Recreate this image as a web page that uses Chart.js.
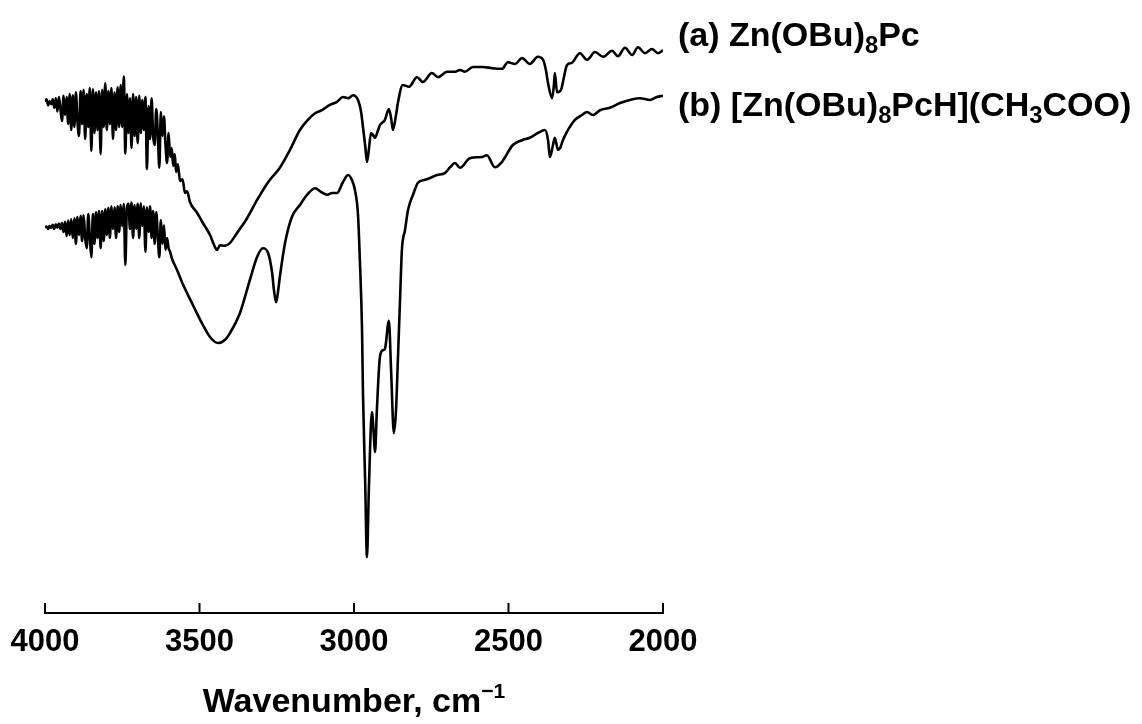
<!DOCTYPE html>
<html>
<head>
<meta charset="utf-8">
<script src="https://cdn.jsdelivr.net/npm/chart.js@4/dist/chart.umd.min.js"></script>
<style>
  html, body { margin: 0; padding: 0; background: #fff; }
</style>
</head>
<body>
<canvas id="ir-chart" width="1142" height="724"></canvas>
<script>
// (a) Zn(OBu)8Pc
const wavenumberA = [4000, 3995, 3990, 3985, 3980, 3975, 3970, 3965, 3960, 3955, 3950, 3945, 3940, 3935, 3930, 3925, 3920, 3915, 3910, 3905,
  3900, 3895, 3890, 3885, 3880, 3875, 3870, 3865, 3860, 3855, 3850, 3845, 3840, 3835, 3830, 3825, 3820, 3815, 3810, 3805,
  3800, 3795, 3790, 3785, 3780, 3775, 3770, 3765, 3760, 3755, 3750, 3745, 3740, 3735, 3730, 3725, 3720, 3715, 3710, 3705,
  3700, 3695, 3690, 3685, 3680, 3675, 3670, 3665, 3660, 3655, 3650, 3645, 3640, 3635, 3630, 3625, 3620, 3615, 3610, 3605,
  3600, 3595, 3590, 3585, 3580, 3576, 3570, 3563, 3555, 3547, 3540, 3531, 3508, 3489, 3466, 3450, 3443, 3434, 3418, 3401,
  3379, 3346, 3314, 3278, 3240, 3207, 3175, 3149, 3126, 3104, 3078, 3055, 3036, 3019, 3003, 2987, 2977, 2971, 2964, 2958,
  2952, 2945, 2939, 2932, 2922, 2916, 2900, 2887, 2880, 2874, 2864, 2858, 2842, 2822, 2796, 2777, 2748, 2728, 2699, 2673,
  2657, 2641, 2615, 2583, 2553, 2521, 2502, 2479, 2456, 2431, 2405, 2388, 2379, 2372, 2359, 2353, 2350, 2343, 2330, 2321,
  2311, 2295, 2269, 2246, 2220, 2194, 2165, 2146, 2123, 2100, 2081, 2058, 2036, 2016, 2000];
const transA = [85.2, 85.6, 84.6, 85.3, 84.8, 85.6, 84.2, 85.8, 83.6, 86.0, 84.0, 82.0, 86.2, 83.0, 86.0, 81.5, 86.5, 80.5, 86.3, 81.0,
  86.8, 82.0, 79.5, 87.0, 81.5, 87.2, 79.0, 86.5, 81.0, 87.5, 77.0, 87.3, 80.0, 86.8, 80.5, 87.0, 76.5, 87.2, 81.0, 88.3,
  80.5, 87.0, 81.5, 87.5, 79.0, 86.8, 80.5, 87.6, 81.0, 88.0, 81.0, 89.4, 76.6, 86.5, 80.0, 85.8, 77.5, 86.5, 79.5, 86.0,
  78.3, 86.2, 80.0, 85.5, 80.5, 86.0, 74.0, 84.5, 79.0, 85.8, 79.5, 78.0, 84.0, 80.0, 74.2, 83.5, 79.5, 82.8, 78.0, 75.0,
  80.0, 76.0, 77.5, 74.5, 76.5, 73.5, 74.8, 72.0, 72.3, 70.0, 70.3, 68.5, 66.7, 65.0, 63.0, 61.0, 60.5, 61.3, 61.2, 61.7,
  63.3, 65.8, 68.8, 71.8, 74.2, 77.2, 80.5, 82.2, 83.3, 83.8, 84.7, 85.2, 86.0, 85.8, 86.3, 85.5, 83.5, 81.0, 78.0, 75.2,
  77.2, 80.0, 79.7, 79.2, 80.5, 81.3, 82.2, 84.0, 82.5, 80.5, 83.0, 85.0, 88.0, 87.7, 89.3, 88.5, 90.0, 89.3, 90.2, 90.2,
  90.5, 90.2, 91.0, 91.0, 90.8, 90.7, 91.8, 91.5, 92.5, 91.5, 92.7, 92.2, 90.5, 88.3, 85.8, 88.0, 90.0, 86.8, 87.2, 89.2,
  91.3, 91.7, 93.3, 92.2, 93.5, 92.7, 93.7, 92.8, 94.2, 93.0, 94.3, 93.3, 94.0, 93.3, 93.8];

// (b) [Zn(OBu)8PcH](CH3COO)
const wavenumberB = [4000, 3995, 3990, 3985, 3980, 3975, 3970, 3965, 3960, 3955, 3950, 3945, 3940, 3935, 3930, 3925, 3920, 3915, 3910, 3905,
  3900, 3895, 3890, 3885, 3880, 3875, 3870, 3865, 3860, 3855, 3850, 3845, 3840, 3835, 3830, 3825, 3820, 3815, 3810, 3805,
  3800, 3795, 3790, 3785, 3780, 3775, 3770, 3765, 3760, 3755, 3750, 3745, 3740, 3735, 3730, 3725, 3720, 3715, 3710, 3705,
  3700, 3695, 3690, 3685, 3680, 3675, 3670, 3665, 3660, 3655, 3650, 3645, 3640, 3635, 3630, 3625, 3620, 3615, 3610, 3605,
  3600, 3595, 3590, 3573, 3553, 3521, 3489, 3466, 3440, 3418, 3401, 3369, 3337, 3314, 3295, 3278, 3265, 3259, 3252,
  3246, 3240, 3223, 3201, 3175, 3152, 3126, 3107, 3087, 3071, 3055, 3036, 3019, 3007, 2997, 2987, 2981, 2974, 2971, 2964,
  2958, 2952, 2942, 2935, 2932, 2926, 2916, 2906, 2900, 2887, 2880, 2871, 2864, 2858, 2851, 2845, 2835, 2825, 2809, 2793,
  2770, 2754, 2731, 2706, 2689, 2673, 2657, 2625, 2586, 2570, 2544, 2521, 2486, 2456, 2431, 2405, 2382, 2372, 2366, 2356,
  2350, 2340, 2333, 2324, 2311, 2285, 2262, 2246, 2227, 2204, 2172, 2139, 2107, 2075, 2042, 2020, 2000];
const transB = [64.3, 64.4, 64.0, 64.5, 64.2, 64.7, 64.0, 64.8, 64.2, 64.9, 64.0, 65.0, 63.5, 65.2, 62.8, 65.4, 63.0, 65.6, 62.5, 65.8,
  61.5, 66.0, 63.0, 66.2, 62.0, 66.3, 62.5, 60.8, 66.5, 62.5, 59.3, 66.5, 61.5, 66.8, 62.5, 67.0, 60.8, 67.0, 62.0, 67.3,
  63.0, 67.5, 62.5, 67.8, 64.0, 67.6, 62.5, 67.8, 63.5, 68.0, 64.5, 68.2, 58.0, 67.5, 68.2, 64.0, 68.4, 62.5, 68.0, 64.0,
  68.2, 62.5, 68.3, 64.5, 67.8, 60.2, 67.6, 63.5, 67.8, 62.5, 67.0, 61.5, 66.8, 63.0, 59.3, 65.5, 61.5, 64.6, 60.5, 62.5,
  60.8, 60.2, 59.2, 57.2, 54.7, 51.3, 48.0, 46.0, 45.0, 45.5, 46.7, 50.0, 55.5, 59.3, 60.8, 60.0, 56.7, 53.8, 51.8,
  53.5, 56.0, 61.7, 66.0, 68.0, 69.7, 70.8, 70.2, 69.7, 70.0, 70.0, 71.8, 73.0, 72.2, 70.5, 66.3, 58.8, 47.2, 36.7, 22.2,
  9.3, 20.5, 33.5, 28.8, 26.8, 33.8, 42.7, 43.8, 44.0, 48.7, 40.5, 30.0, 33.8, 42.2, 52.2, 60.5, 63.8, 67.2, 69.7, 71.7,
  72.2, 72.5, 73.0, 73.3, 74.3, 75.0, 74.2, 75.8, 76.0, 76.3, 74.3, 75.2, 78.0, 78.8, 79.2, 80.0, 80.5, 78.8, 76.0, 78.0,
  79.2, 77.2, 77.5, 78.8, 80.2, 82.2, 83.0, 83.5, 83.0, 83.8, 84.2, 85.0, 85.5, 85.8, 85.5, 86.0, 86.2];

const xTicks = [4000, 3500, 3000, 2500, 2000];

const FONT = '"Liberation Sans", Arial, Helvetica, sans-serif';

function toPoints(xs, ys) {
  return xs.map((x, i) => ({ x, y: ys[i] }));
}

// draws a run of text pieces; each piece may be shrunk and shifted (sub/superscript)
function drawRich(ctx, parts, x, y, size) {
  let cx = x;
  for (const p of parts) {
    const s = size * (p.scale || 1);
    ctx.font = `bold ${s}px ${FONT}`;
    ctx.fillText(p.t, cx, y + (p.dy || 0) * size);
    cx += ctx.measureText(p.t).width;
  }
  return cx - x;
}

function richWidth(ctx, parts, size) {
  let w = 0;
  for (const p of parts) {
    ctx.font = `bold ${size * (p.scale || 1)}px ${FONT}`;
    w += ctx.measureText(p.t).width;
  }
  return w;
}

const annotations = {
  id: 'annotations',
  afterDraw(chart) {
    const { ctx, scales: { x } } = chart;
    ctx.save();

    // tick marks pointing up into the plot
    ctx.strokeStyle = '#000';
    ctx.lineWidth = 2;
    xTicks.forEach((v) => {
      const px = x.getPixelForValue(v);
      ctx.beginPath();
      ctx.moveTo(px, x.top + 1);
      ctx.lineTo(px, x.top - 10);
      ctx.stroke();
    });

    ctx.fillStyle = '#000';
    ctx.textBaseline = 'alphabetic';
    ctx.textAlign = 'left';

    // axis title
    const title = [
      { t: 'Wavenumber, cm' },
      { t: '\u22121', scale: 0.62, dy: -0.42 },
    ];
    const tw = richWidth(ctx, title, 34);
    drawRich(ctx, title, (x.left + x.right) / 2 - tw / 2, 712, 34);

    // series labels
    drawRich(ctx, [
      { t: '(a) Zn(OBu)' },
      { t: '8', scale: 0.7, dy: 0.22 },
      { t: 'Pc' },
    ], 678, 46, 34);
    drawRich(ctx, [
      { t: '(b) [Zn(OBu)' },
      { t: '8', scale: 0.7, dy: 0.22 },
      { t: 'PcH](CH' },
      { t: '3', scale: 0.7, dy: 0.22 },
      { t: 'COO)' },
    ], 678, 116, 34);

    ctx.restore();
  },
};

const lineStyle = {
  borderColor: '#000',
  borderWidth: 2.6,
  pointRadius: 0,
  cubicInterpolationMode: 'monotone',
  fill: false,
};

new Chart(document.getElementById('ir-chart'), {
  type: 'line',
  data: {
    datasets: [
      { label: '(a) Zn(OBu)8Pc', data: toPoints(wavenumberA, transA), ...lineStyle },
      { label: '(b) [Zn(OBu)8PcH](CH3COO)', data: toPoints(wavenumberB, transB), ...lineStyle },
    ],
  },
  options: {
    responsive: false,
    animation: false,
    layout: { padding: { left: 45, right: 479, top: 13, bottom: 0 } },
    plugins: {
      legend: { display: false },
      tooltip: { enabled: false },
    },
    scales: {
      x: {
        type: 'linear',
        reverse: true,
        min: 2000,
        max: 4000,
        afterFit: (scale) => {
          scale.height = 111;
          scale.paddingLeft = 0;
          scale.paddingRight = 0;
        },
        afterBuildTicks: (scale) => { scale.ticks = xTicks.map((v) => ({ value: v })); },
        grid: { display: false, drawTicks: false },
        border: { display: true, color: '#000', width: 2 },
        ticks: {
          padding: 11,
          color: '#000',
          maxRotation: 0,
          autoSkip: false,
          callback: (v) => String(v),
          font: { family: FONT, size: 31, weight: 'bold' },
        },
      },
      y: {
        display: false,
        min: 0,
        max: 100,
      },
    },
  },
  plugins: [annotations],
});
</script>
</body>
</html>
